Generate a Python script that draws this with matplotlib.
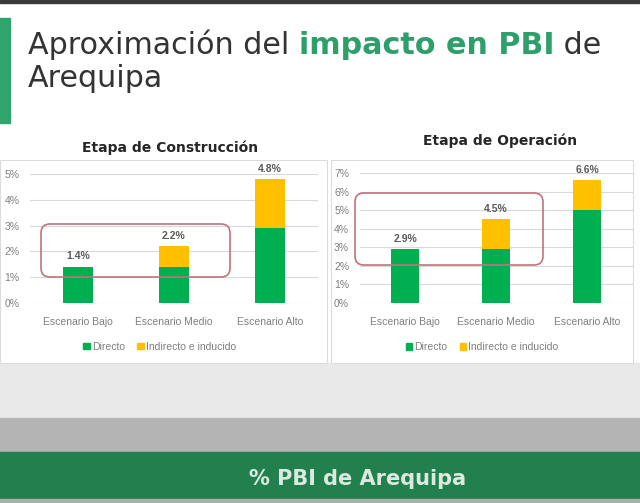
import numpy as np
import matplotlib
matplotlib.use('Agg')
import matplotlib.pyplot as plt
from matplotlib.patches import Rectangle, FancyBboxPatch, Patch

# datos
escenarios = ['Escenario Bajo', 'Escenario Medio', 'Escenario Alto']
series = ['Directo', 'Indirecto e inducido']
cons_directo = [1.4, 1.4, 2.9]
cons_indirecto = [0.0, 0.8, 1.9]
cons_total = [1.4, 2.2, 4.8]
oper_directo = [2.9, 2.9, 5.0]
oper_indirecto = [0.0, 1.6, 1.6]
oper_total = [2.9, 4.5, 6.6]

VERDE = '#00b050'
AMARILLO = '#ffc000'
GRIS = '#7f7f7f'

W, H = 640, 503
fig = plt.figure(figsize=(6.4, 5.03), dpi=100)
fig.patch.set_facecolor('white')

def fx(x):  # pixel -> fraccion de figura
    return x / W

def fy(y):
    return (H - y) / H

def rect(x0, y0, x1, y1, **kw):
    fig.patches.append(Rectangle((fx(x0), fy(y1)), fx(x1) - fx(x0), fy(y0) - fy(y1),
                                 transform=fig.transFigure, zorder=-1, **kw))

# fondo
rect(0, 0, W, 3, color='#3a3a3a')
rect(0, 18, 10, 123, color='#2fa56b')
rect(0, 363, W, 418, color='#e9e9e9')
rect(0, 418, W, 452, color='#b4b4b4')
rect(0, 452, W, 499, color='#22804f')
rect(0, 499, W, H, color='#a9b1ad')
rect(0, 160, 327, 363, facecolor='white', edgecolor='#dcdcdc', lw=0.8)
rect(331, 160, 633, 363, facecolor='white', edgecolor='#dcdcdc', lw=0.8)

# titulo de varias partes
partes = [('Aproximación del ', 'normal', '#333333'),
          ('impacto en PBI', 'bold', '#2e9e6a'),
          (' de', 'normal', '#333333')]
r = fig.canvas.get_renderer()
x = fx(28)
for txt, peso, col in partes:
    t = fig.text(x, fy(54), txt, fontsize=21.7, fontweight=peso, color=col,
                 family='DejaVu Sans', va='baseline', ha='left')
    bb = t.get_window_extent(renderer=r)
    x = x + bb.width / W
fig.text(fx(28), fy(87), 'Arequipa', fontsize=21.7, color='#333333',
         family='DejaVu Sans', va='baseline', ha='left')

fig.text(fx(358), fy(485), '% PBI de Arequipa', fontsize=15, fontweight='bold',
         color='#dbe9df', family='DejaVu Sans', ha='center', va='baseline')

def grafico(pos, directo, indirecto, total, ymax, titulo, tx, ty, caja):
    ax = fig.add_axes(pos)
    xs = np.arange(len(escenarios))
    ax.bar(xs, directo, width=0.31, color=VERDE, zorder=2)
    ax.bar(xs, indirecto, width=0.31, bottom=directo, color=AMARILLO, zorder=2)
    for i, v in enumerate(total):
        ax.annotate(f'{v:.1f}%', (xs[i], v), xytext=(0, 4), textcoords='offset points',
                    ha='center', va='bottom', fontsize=7.5, fontweight='bold',
                    color='#595959', family='Liberation Sans')
    ax.set_xlim(-0.5, len(escenarios) - 0.5)
    ax.set_ylim(0, ymax)
    ax.set_yticks(range(ymax + 1))
    ax.set_yticklabels([f'{v}%' for v in range(ymax + 1)])
    ax.set_xticks(xs)
    ax.set_xticklabels(escenarios)
    ax.grid(axis='y', color='#d9d9d9', lw=0.8, zorder=0)
    for s in ax.spines.values():
        s.set_visible(False)
    ax.tick_params(length=0, labelsize=7.5, labelcolor=GRIS, pad=10)
    ax.tick_params(axis='y', pad=7.5)
    for lab in ax.get_xticklabels() + ax.get_yticklabels():
        lab.set_family('Liberation Sans')
    ax.set_facecolor('none')
    manejadores = [Patch(color=VERDE), Patch(color=AMARILLO)]
    leg = ax.legend(manejadores, series, ncol=2, loc='center', bbox_to_anchor=(0.45, -0.34),
                    frameon=False, handlelength=0.6, handleheight=0.6, handletextpad=0.2,
                    columnspacing=1.2, prop={'family': 'Liberation Sans', 'size': 7.5})
    for t in leg.get_texts():
        t.set_color(GRIS)
    fig.text(fx(tx), fy(ty), titulo, fontsize=10, fontweight='bold', color='#262626',
             family='DejaVu Sans', ha='center', va='baseline')
    x0, y0, x1, y1 = caja
    fig.patches.append(FancyBboxPatch((fx(x0), fy(y1)), fx(x1) - fx(x0), fy(y0) - fy(y1),
                                      boxstyle='round,pad=0,rounding_size=0.014',
                                      mutation_aspect=W / H, transform=fig.transFigure,
                                      fill=False, edgecolor='#c0737c', lw=1.2, zorder=5))
    return ax

grafico([fx(30), fy(303), fx(318) - fx(30), fy(174) - fy(303)],
        cons_directo, cons_indirecto, cons_total, 5,
        'Etapa de Construcción', 170, 152, (41, 224, 230, 277))
grafico([fx(359.5), fy(303), fx(632.5) - fx(359.5), fy(173) - fy(303)],
        oper_directo, oper_indirecto, oper_total, 7,
        'Etapa de Operación', 500, 145, (355, 193, 543, 265))

fig.savefig('out.png', dpi=100)
